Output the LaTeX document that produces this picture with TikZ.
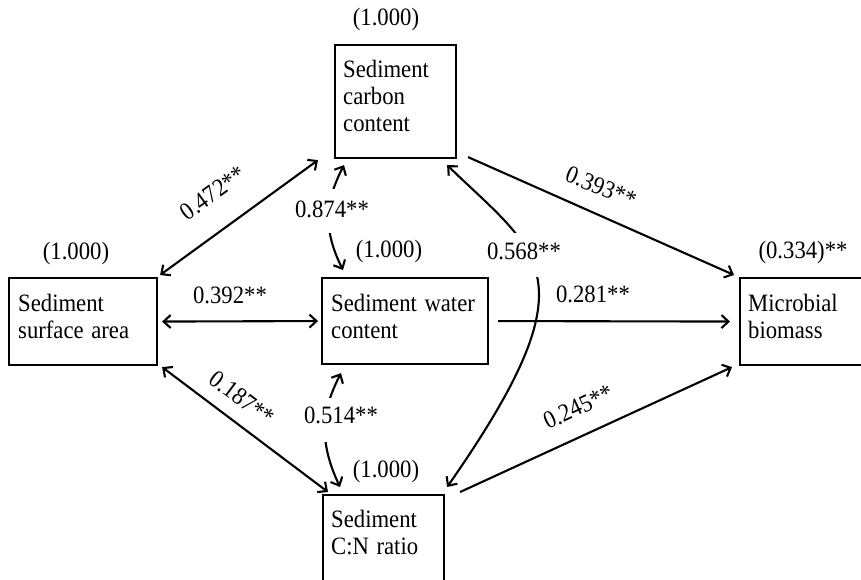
\documentclass[tikz,border=0pt]{standalone}
\usepackage{graphicx}
\usepackage{fontspec}
\setmainfont{Liberation Serif}
\usetikzlibrary{arrows.meta,calc}
\newcommand{\vst}[1]{\scalebox{1}[1.1]{#1}}
\begin{document}
\begin{tikzpicture}[x=1pt,y=-1pt,
  every node/.style={font=\fontsize{22.7pt}{27.3pt}\selectfont},
  box/.style={draw, line width=2.1pt, inner sep=0pt, anchor=north west},
  boxtxt/.style={inner sep=0pt, anchor=base west, text width=160pt, align=left},
  lab/.style={inner sep=0pt},
  gaplab/.style={fill=white, inner xsep=2pt, inner ysep=0pt, anchor=base},
  conn/.style={line width=2.1pt},
  >={Straight Barb[length=7pt,width=13pt]}
]
\clip (0,0) rectangle (861,579);
\fill[white] (0,0) rectangle (861,579);

% boxes
\node[box, minimum width=121pt, minimum height=113pt] (carbon) at (334,44) {};
\node[box, minimum width=166pt, minimum height=86pt] (water) at (321,277) {};
\node[box, minimum width=148pt, minimum height=87pt] (surface) at (8,277) {};
\node[box, minimum width=150pt, minimum height=87pt] (microbial) at (739,277) {};
\node[box, minimum width=121pt, minimum height=120pt] (cn) at (322,494) {};

% box texts
\node[boxtxt] (carbontxt) at (343,77) {\vst{Sediment}\\\vst{carbon}\\\vst{content}};
\node[boxtxt] (watertxt) at (331,311) {\vst{Sediment water}\\\vst{content}};
\node[boxtxt] (surfacetxt) at (18,311) {\vst{Sediment}\\\vst{surface area}};
\node[boxtxt] (microbialtxt) at (748,311) {\vst{Microbial}\\\vst{biomass}};
\node[boxtxt] (cntxt) at (331,527) {\vst{Sediment}\\\vst{C:N ratio}};

% R-square labels
\node[lab] (carbonr) at (386,19) {\vst{(1.000)}};
\node[lab] (waterr) at (389,251) {\vst{(1.000)}};
\node[lab] (surfacer) at (76,253) {\vst{(1.000)}};
\node[lab] (cnr) at (386,471) {\vst{(1.000)}};
\node[lab] (microbialr) at (803,252) {\vst{(0.334)**}};

% connectors
\draw[conn,<->] ($(surface.north east)+(2,-2)$) -- ($(carbon.south west)+(-16,1)$);
\draw[conn,<->] ($(surface.east)+(4,0)$) -- ($(water.west)+(-3,0)$);
\draw[conn,<->] ($(surface.south east)+(4,1)$) -- ($(cn.north west)+(6,-2)$);
\draw[conn,<->] ($(carbon.south west)+(10,6)$) .. controls (326,200) and (322,228) .. ($(water.north west)+(22,-7)$);
\draw[conn,<->] ($(water.south west)+(20,8)$) .. controls (322,410) and (318,440) .. ($(cn.north west)+(18,-7)$);
\draw[conn,<->] ($(carbon.south east)+(-10,6)$) .. controls (540,255) and (595,275) .. ($(cn.north east)+(2,-7)$);
\draw[conn,->] ($(carbon.south east)+(11,-2)$) -- ($(microbial.north west)+(-5,-2)$);
\draw[conn,->] ($(water.east)+(9,0)$) -- ($(microbial.west)+(-9,0)$);
\draw[conn,->] ($(cn.north east)+(15,-2)$) -- ($(microbial.south west)+(-7,1)$);

% path labels
\node[gaplab, text height=28pt, text depth=16pt] (l874) at (332,217) {\vst{0.874**}};
\node[gaplab, text height=25pt, text depth=19pt] (l514) at (341,423) {\vst{0.514**}};
\node[gaplab, text height=26pt, text depth=18pt] (l568) at (524,259) {\vst{0.568**}};
\node[lab] (l392) at (230,295) {\vst{0.392**}};
\node[lab] (l281) at (593,294) {\vst{0.281**}};
\node[lab, rotate=36] (l472) at (213,193) {\vst{0.472**}};
\node[lab, rotate=-37] (l187) at (242,398) {\vst{0.187**}};
\node[lab, rotate=-22] (l393) at (601,187) {\vst{0.393**}};
\node[lab, rotate=25] (l245) at (578,407) {\vst{0.245**}};
\end{tikzpicture}
\end{document}
